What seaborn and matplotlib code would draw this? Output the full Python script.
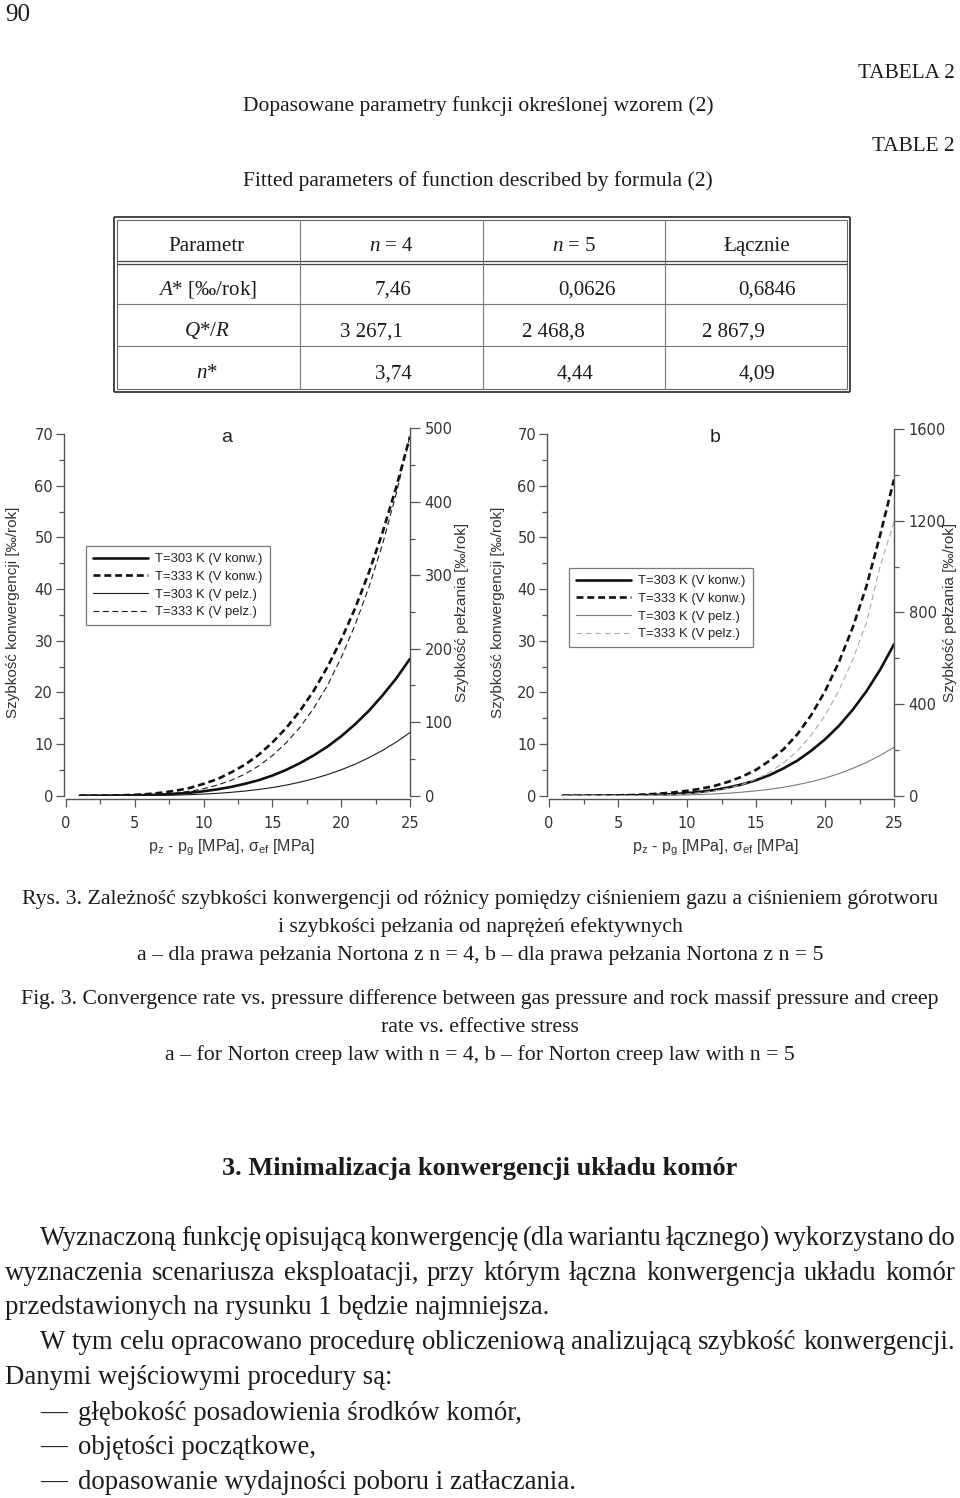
import matplotlib
matplotlib.use("Agg")
import matplotlib.pyplot as plt
import seaborn as sns
import pandas as pd
from matplotlib.lines import Line2D
from matplotlib.ticker import MultipleLocator

# ---------------- data ----------------
pz = [1, 2, 3, 4, 5, 6, 7, 8, 9, 10, 11, 12, 13, 14, 15, 16, 17, 18, 19, 20, 21, 22, 23, 24, 25]

# panel a (Norton n = 4)
a_konw_303 = [0.0, 0.0, 0.01, 0.03, 0.06, 0.13, 0.23, 0.37, 0.58, 0.86, 1.23, 1.7, 2.3, 3.0, 3.9,
              5.0, 6.3, 7.8, 9.5, 11.5, 13.8, 16.4, 19.4, 22.7, 26.5]
a_konw_333 = [0.0, 0.01, 0.03, 0.07, 0.17, 0.33, 0.6, 0.98, 1.5, 2.3, 3.2, 4.5, 6.0, 7.9, 10.3,
              13.1, 16.4, 20.3, 24.9, 30.2, 36.2, 43.1, 50.9, 59.7, 69.5]
a_pelz_303 = [0.0, 0.0, 0.02, 0.06, 0.14, 0.3, 0.5, 0.9, 1.4, 2.2, 3.2, 4.6, 6.3, 8.5, 11.1,
              14.4, 18.4, 23.1, 28.7, 35.2, 42.8, 51.6, 61.6, 73.0, 86.0]
a_pelz_333 = [0.0, 0.01, 0.05, 0.19, 0.48, 1.06, 2.05, 3.65, 6.1, 9.5, 14.4, 20.9, 29.4, 40.5, 54.5,
              72.0, 93.0, 119.0, 150.0, 188.0, 232.0, 283.0, 342.0, 411.0, 490.0]

# panel b (Norton n = 5)
b_konw_303 = [0.0, 0.0, 0.0, 0.01, 0.02, 0.05, 0.1, 0.19, 0.31, 0.5, 0.76, 1.1, 1.6, 2.2, 3.0,
              4.0, 5.3, 6.8, 8.7, 10.9, 13.5, 16.6, 20.2, 24.4, 29.3]
b_konw_333 = [0.0, 0.0, 0.01, 0.03, 0.07, 0.13, 0.24, 0.4, 0.62, 0.95, 1.35, 1.9, 2.7, 3.7, 5.0,
              6.8, 9.0, 11.9, 15.6, 20.2, 25.8, 32.5, 40.5, 50.5, 61.2]
b_pelz_303 = [0.0, 0.0, 0.01, 0.05, 0.15, 0.34, 0.7, 1.25, 2.1, 3.4, 5.2, 7.8, 11.1, 15.5, 21.0,
              28.0, 37.0, 48.0, 61.0, 77.0, 96.0, 119.0, 145.0, 176.0, 211.0]
b_pelz_333 = [0.0, 0.0, 0.01, 0.1, 0.25, 0.5, 1.1, 2.3, 4.3, 7.7, 13.0, 21.0, 33.0, 49.0, 72.0,
              103.0, 143.0, 196.0, 264.0, 350.0, 458.0, 592.0, 755.0, 1002.0, 1195.0]

legend_labels = ["T=303 K (V konw.)", "T=333 K (V konw.)", "T=303 K (V pelz.)", "T=333 K (V pelz.)"]

# table
table_header = ["Parametr", "$n$ = 4", "$n$ = 5", "Łącznie"]
table_params = ["$A$* [‰/rok]", "$Q$*/$R$", "$n$*"]
table_n4 = ["7,46", "3 267,1", "3,74"]
table_n5 = ["0,0626", "2 468,8", "4,44"]
table_all = ["0,6846", "2 867,9", "4,09"]

# ---------------- style ----------------
sns.set_theme(style="ticks")
plt.rcParams["font.family"] = ["Liberation Sans", "DejaVu Sans"]
plt.rcParams["mathtext.fontset"] = "custom"
plt.rcParams["mathtext.rm"] = "Liberation Serif"
plt.rcParams["mathtext.it"] = "Liberation Serif:italic"
plt.rcParams["mathtext.bf"] = "Liberation Serif:bold"
plt.rcParams["lines.scale_dashes"] = False

W, H = 960, 1498
fig = plt.figure(figsize=(W / 100, H / 100), dpi=100)
fig.patch.set_facecolor("white")
renderer = fig.canvas.get_renderer()

SERIF = ["Liberation Serif", "DejaVu Serif"]
INK = "#1b1b1b"
AXC = "#555555"
TXC = "#333333"


def fx(x):
    return x / W


def fy(y):
    return 1 - y / H


def measure(s, size, **kw):
    t = fig.text(0, 0, s, fontsize=size, **kw)
    w = t.get_window_extent(renderer).width
    t.remove()
    return w


def fit(s, target, **kw):
    return 20 * target / measure(s, 20, **kw)


def put(x, y, s, size, ha="left", **kw):
    base = y + 0.3 * size * 100 / 72
    kw.setdefault("color", INK)
    return fig.text(fx(x), fy(base), s, fontsize=size, ha=ha, va="baseline", **kw)


def justify(x0, x1, y, s, size, **kw):
    words = s.split(" ")
    widths = [measure(w, size, **kw) for w in words]
    gap = (x1 - x0 - sum(widths)) / (len(words) - 1)
    x = x0
    for w, wd in zip(words, widths):
        put(x, y, w, size, **kw)
        x += wd + gap


def hline(x0, x1, y, lw=0.8, color="#666666"):
    fig.add_artist(Line2D([fx(x0), fx(x1)], [fy(y), fy(y)], transform=fig.transFigure,
                          color=color, lw=lw, solid_capstyle="butt"))


def vline(x, y0, y1, lw=0.8, color="#666666"):
    fig.add_artist(Line2D([fx(x), fx(x)], [fy(y0), fy(y1)], transform=fig.transFigure,
                          color=color, lw=lw, solid_capstyle="butt"))


# ---------------- header text ----------------
put(5, 13, "90", fit("90", 25, family=SERIF), family=SERIF)
sz_t = fit("TABELA 2", 97, family=SERIF)
put(955, 72, "TABELA 2", sz_t, ha="right", family=SERIF)
put(955, 145, "TABLE 2", sz_t, ha="right", family=SERIF)
sz_title = fit("Dopasowane parametry funkcji określonej wzorem (2)", 470, family=SERIF)
put(478, 105, "Dopasowane parametry funkcji określonej wzorem (2)", sz_title, ha="center", family=SERIF)
put(478, 180, "Fitted parameters of function described by formula (2)", sz_title, ha="center", family=SERIF)

# ---------------- table ----------------
hline(114, 850, 217, lw=1.4, color="#444444")
hline(114, 850, 392, lw=1.4, color="#444444")
vline(114, 217, 392, lw=1.4, color="#444444")
vline(850, 217, 392, lw=1.4, color="#444444")
hline(117, 847, 220, lw=0.8)
hline(117, 847, 389, lw=0.8)
vline(117, 220, 389, lw=0.8)
vline(847, 220, 389, lw=0.8)
hline(117, 847, 261, lw=0.9, color="#444444")
hline(117, 847, 264, lw=0.9, color="#444444")
hline(117, 847, 304, lw=0.8, color="#777777")
hline(117, 847, 346, lw=0.8, color="#777777")
for cx in (300, 483, 665):
    vline(cx, 220, 389, lw=0.8, color="#777777")

sz_tab = fit("Parametr", 76, family=SERIF)
for s, cx in zip(table_header, (207, 391, 574, 757)):
    put(cx, 245, s, sz_tab, ha="center", family=SERIF)
row_y = (288, 330, 372)
for s, cy in zip(table_params, row_y):
    put(207, cy, s, sz_tab, ha="center", family=SERIF)
for s, cy, cx in zip(table_n4, row_y, (393, 372, 393)):
    put(cx, cy, s, sz_tab, ha="center", family=SERIF)
for s, cy, cx in zip(table_n5, row_y, (587, 553, 575)):
    put(cx, cy, s, sz_tab, ha="center", family=SERIF)
for s, cy, cx in zip(table_all, row_y, (767, 733, 757)):
    put(cx, cy, s, sz_tab, ha="center", family=SERIF)


# ---------------- charts ----------------
TICKFONT = "DejaVu Sans"


def panel(x0, x1, yb, y70, ytop, rmax, rmajor, rminor, series, colors, widths, styles,
          letter, letter_x, leg_xy, lab_l, lab_r):
    ax = fig.add_axes([fx(x0), fy(yb), (x1 - x0) / W, (yb - ytop) / H])
    ax2 = ax.twinx()
    df = pd.DataFrame({"pz": pz, "k303": series[0], "k333": series[1],
                       "p303": series[2], "p333": series[3]})
    for i, (col, target) in enumerate(zip(["k303", "k333", "p303", "p333"], [ax, ax, ax2, ax2])):
        sns.lineplot(data=df, x="pz", y=col, ax=target, color=colors[i], linewidth=widths[i],
                     linestyle=styles[i], label=legend_labels[i], legend=False, errorbar=None)
    ltop = 70 * (yb - ytop) / (yb - y70)
    ax.set_xlim(0, 25)
    ax.set_ylim(0, ltop)
    ax2.set_ylim(0, rmax)

    ax.xaxis.set_major_locator(MultipleLocator(5))
    ax.xaxis.set_minor_locator(MultipleLocator(2.5))
    ax.yaxis.set_major_locator(MultipleLocator(10))
    ax.yaxis.set_minor_locator(MultipleLocator(5))
    ax2.yaxis.set_major_locator(MultipleLocator(rmajor))
    ax2.yaxis.set_minor_locator(MultipleLocator(rminor))

    for sp in ("top", "right"):
        ax.spines[sp].set_visible(False)
    for sp in ("top", "left", "bottom"):
        ax2.spines[sp].set_visible(False)
    ax.spines["left"].set_position(("outward", 1.8))
    ax.spines["bottom"].set_position(("outward", 2.2))
    ax.spines["left"].set_bounds(0, 70)
    ax2.spines["right"].set_bounds(0, rmax)
    for sp in (ax.spines["left"], ax.spines["bottom"], ax2.spines["right"]):
        sp.set_color(AXC)
        sp.set_linewidth(1.0)

    ax.tick_params(axis="y", which="major", direction="out", length=6, width=0.9, color=AXC,
                   labelcolor=TXC, labelsize=10.5, pad=1.5, labelfontfamily=TICKFONT)
    ax.tick_params(axis="y", which="minor", direction="out", length=3.5, width=0.9, color=AXC)
    ax.tick_params(axis="x", which="major", direction="out", length=6, width=0.9, color=AXC,
                   labelcolor=TXC, labelsize=10.5, pad=6.5, labelfontfamily=TICKFONT)
    ax.tick_params(axis="x", which="minor", direction="out", length=3.5, width=0.9, color=AXC)
    ax2.tick_params(axis="y", which="major", direction="out", length=7, width=0.9, color=AXC,
                    labelcolor=TXC, labelsize=10.5, pad=3.5, labelfontfamily=TICKFONT)
    ax2.tick_params(axis="y", which="minor", direction="out", length=3.5, width=0.9, color=AXC)

    ax.set_xlabel(r"p$\mathregular{_z}$ - p$\mathregular{_g}$ [MPa], σ$\mathregular{_{ef}}$ [MPa]",
                  fontsize=11.5, color=TXC, va="center")
    ax.xaxis.set_label_coords(0.5 - 6 / (x1 - x0), -(848 - yb) / (yb - ytop))
    ax.set_ylabel("Szybkość konwergencji [‰/rok]", fontsize=11, color=TXC, va="center")
    ax.yaxis.set_label_coords((lab_l - x0) / (x1 - x0), 0.5)
    ax2.set_ylabel("Szybkość pełzania [‰/rok]", fontsize=11, color=TXC, va="center",
                   rotation=90)
    ax2.yaxis.set_label_coords((lab_r - x0) / (x1 - x0), 0.5)

    fig.text(fx(letter_x), fy(442), letter, fontsize=14, color="#222222", ha="center",
             va="baseline")

    handles = ax.get_lines() + ax2.get_lines()
    leg = ax2.legend(handles, legend_labels, loc="upper left",
                     bbox_to_anchor=(fx(leg_xy[0]), fy(leg_xy[1])), bbox_transform=fig.transFigure,
                     frameon=True, fancybox=False, framealpha=1, edgecolor="#7a7a7a",
                     fontsize=9.4, handlelength=4.2, handletextpad=0.55, labelspacing=0.42,
                     borderpad=0.55, borderaxespad=0)
    leg.get_frame().set_linewidth(0.9)
    for t in leg.get_texts():
        t.set_color("#222222")
    return ax, ax2


thick_dash = (0, (5.0, 2.8))
thin_dash = (0, (4.2, 2.6))

panel(66, 410, 795.7, 434, 428.3, 500, 100, 50,
      [a_konw_303, a_konw_333, a_pelz_303, a_pelz_333],
      ["#111111", "#111111", "#1a1a1a", "#1a1a1a"], [1.9, 1.9, 0.8, 0.8],
      ["-", thick_dash, "-", thin_dash],
      "a", 227, (86, 546), 13, 462)

panel(549, 894, 795.7, 434, 429, 1600, 400, 200,
      [b_konw_303, b_konw_333, b_pelz_303, b_pelz_333],
      ["#111111", "#111111", "#7a7a7a", "#aaaaaa"], [1.9, 1.9, 0.8, 0.8],
      ["-", thick_dash, "-", thin_dash],
      "b", 715, (569, 568), 498, 950)

# ---------------- captions ----------------
cap1 = "Rys. 3. Zależność szybkości konwergencji od różnicy pomiędzy ciśnieniem gazu a ciśnieniem górotworu"
cap2 = "i szybkości pełzania od naprężeń efektywnych"
cap3 = "a – dla prawa pełzania Nortona z n = 4, b – dla prawa pełzania Nortona z n = 5"
cap4 = "Fig. 3. Convergence rate vs. pressure difference between gas pressure and rock massif pressure and creep"
cap5 = "rate vs. effective stress"
cap6 = "a – for Norton creep law with n = 4, b – for Norton creep law with n = 5"
sz_cap = (fit(cap1, 905, family=SERIF) + fit(cap3, 693, family=SERIF)
          + fit(cap4, 914, family=SERIF)) / 3
for s, y in zip([cap1, cap2, cap3, cap4, cap5, cap6], [897, 925, 953, 997, 1025, 1053]):
    put(480, y, s, sz_cap, ha="center", family=SERIF)

head = "3. Minimalizacja konwergencji układu komór"
sz_head = fit(head, 516, family=SERIF, weight="bold")
put(480, 1167, head, sz_head, ha="center", family=SERIF, weight="bold")

# ---------------- body ----------------
body3 = "przedstawionych na rysunku 1 będzie najmniejsza."
sz_body = fit(body3, 543, family=SERIF)
justify(40, 955, 1237, "Wyznaczoną funkcję opisującą konwergencję (dla wariantu łącznego) wykorzystano do",
        sz_body, family=SERIF)
justify(5, 955, 1272, "wyznaczenia scenariusza eksploatacji, przy którym łączna konwergencja układu komór",
        sz_body, family=SERIF)
put(5, 1306, body3, sz_body, family=SERIF)
justify(40, 955, 1341, "W tym celu opracowano procedurę obliczeniową analizującą szybkość konwergencji.",
        sz_body, family=SERIF)
put(5, 1376, "Danymi wejściowymi procedury są:", sz_body, family=SERIF)
for s, y in zip(["głębokość posadowienia środków komór,", "objętości początkowe,",
                 "dopasowanie wydajności poboru i zatłaczania."], [1412, 1446, 1481]):
    put(40, y, "—", sz_body, family=SERIF)
    put(78, y, s, sz_body, family=SERIF)

fig.savefig("out.png", dpi=100, facecolor="white")
